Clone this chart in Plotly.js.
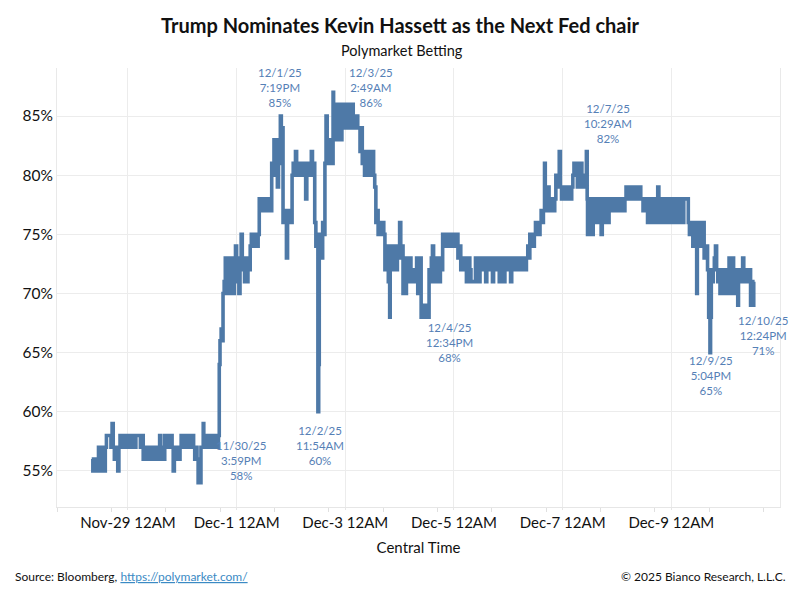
<!DOCTYPE html>
<html>
<head>
<meta charset="utf-8">
<script src="https://cdn.plot.ly/plotly-3.0.1.min.js"></script>
<style>
  html, body { margin: 0; padding: 0; background: #ffffff; }
  #chart { width: 800px; height: 600px; }
</style>
</head>
<body>
<div id="chart"></div>
<script>
// ---- Data (Polymarket odds, %, Central Time) ----
const nov28 = [["08:00",56],["08:30",55],["09:00",56],["09:30",55],["10:00",56],["10:30",55],["11:00",57],["11:30",55],["12:00",57],["12:30",56],["13:00",57],["13:30",55],["14:00",57],["14:30",58],["15:00",58],["16:00",58],["16:30",57],["17:00",59],["17:30",57],["18:00",56],["18:30",57],["19:00",56],["19:30",55],["20:00",57],["20:30",58],["21:00",57],["21:30",58],["22:00",58],["22:30",57],["23:00",58]];
const nov29 = [["00:00",57],["00:30",58],["01:00",58],["01:30",57],["02:00",58],["03:00",57],["03:30",58],["04:00",58],["05:00",58],["05:30",57],["06:00",58],["06:45",56],["07:30",57],["08:00",56],["08:30",57],["09:30",56],["10:00",57],["10:30",56],["11:30",57],["12:00",56],["12:30",57],["13:00",56],["13:30",57],["14:00",58],["14:30",56],["15:00",57],["15:30",56],["16:15",58],["17:00",57],["17:30",58],["18:30",57],["19:00",58],["19:30",57],["20:00",55],["20:30",57],["21:00",56],["21:30",57],["22:00",56],["23:00",57],["23:30",58]];
const nov30 = [["00:00",58],["01:00",57],["01:30",58],["02:00",58],["03:00",57],["03:30",58],["04:30",58],["05:00",57],["05:30",56],["06:00",57],["06:30",56],["07:00",54],["07:45",54],["08:15",57],["09:15",59],["09:30",57],["10:00",58],["11:00",57],["11:30",58],["12:30",57],["13:00",58],["14:00",57],["14:30",58],["15:00",57],["15:59",58],["16:20",64],["16:40",66],["17:10",67],["17:30",66],["18:00",70],["18:30",71],["19:00",73],["19:30",70],["20:00",72],["20:30",70],["21:00",73],["21:30",71],["22:00",73],["22:30",70],["23:00",72],["23:30",74]];
const dec01 = [["00:00",71],["00:30",73],["01:00",70],["01:30",72],["02:00",75],["02:30",72],["03:00",73],["03:30",71],["04:00",73],["04:30",71],["05:00",73],["05:30",72],["06:00",74],["06:30",75],["07:00",74],["07:30",75],["08:00",74],["08:30",75],["09:00",74],["09:30",75],["10:00",78],["10:30",77],["11:00",78],["11:30",77],["12:00",77],["13:00",78],["13:30",77],["14:00",78],["15:00",77],["15:30",81],["16:00",80],["16:30",83],["17:00",81],["17:30",83],["18:00",79],["18:30",83],["19:19",85],["19:45",81],["20:00",84],["20:30",76],["21:00",77],["21:30",76],["22:00",73],["22:30",77],["23:00",76],["23:30",77]];
const dec02 = [["00:00",76],["00:30",80],["01:00",81],["01:30",80],["02:00",82],["02:30",80],["03:00",81],["03:30",80],["04:00",81],["04:30",80],["05:00",81],["05:30",80],["06:00",81],["06:30",78],["07:00",81],["07:30",80],["08:00",81],["08:30",80],["09:00",82],["09:30",80],["10:00",81],["10:30",76],["11:00",74],["11:30",75],["11:54",60],["12:15",64],["12:30",74],["13:00",75],["13:30",73],["14:00",76],["14:30",75],["15:00",81],["15:30",85],["16:00",81],["16:30",83],["17:00",81],["17:30",83],["18:00",81],["18:36",87],["18:50",84],["19:00",83],["19:30",86],["20:00",83],["20:30",86],["21:00",84],["21:30",86],["22:00",83],["22:30",86],["23:00",84],["23:30",86]];
const dec03 = [["00:00",84],["00:30",86],["01:00",85],["01:30",86],["02:00",84],["02:49",86],["03:30",84],["04:00",85],["04:30",84],["05:00",85],["05:30",84],["06:00",84],["06:30",82],["07:00",84],["07:30",81],["08:00",82],["08:30",80],["09:00",82],["09:30",80],["10:00",82],["10:30",80],["11:00",82],["11:30",80],["12:00",82],["12:30",80],["13:00",79],["13:30",76],["14:00",77],["14:30",75],["15:00",76],["15:30",75],["16:00",75],["16:30",76],["17:00",75],["17:30",72],["18:00",74],["18:30",72],["19:00",71],["19:36",68],["19:50",72],["20:00",74],["20:30",72],["21:00",74],["21:30",72],["22:00",74],["22:30",72],["23:00",74],["23:30",73]];
const dec04 = [["00:00",76],["00:30",73],["01:00",74],["01:30",70],["02:00",72],["02:30",70],["03:00",73],["03:30",71],["04:00",72],["04:30",73],["05:00",71],["05:30",72],["06:00",71],["06:30",72],["07:00",71],["07:30",73],["08:00",70],["08:30",72],["09:00",73],["09:30",68],["10:00",69],["10:30",68],["11:00",69],["11:30",68],["12:34",68],["13:00",72],["13:30",71],["14:00",73],["14:30",74],["15:00",72],["15:30",71],["16:00",73],["16:30",72],["17:00",73],["17:30",71],["18:00",73],["18:30",72],["19:00",75],["19:30",74],["20:00",75],["20:30",74],["21:00",75],["22:00",74],["22:30",75],["23:30",74]];
const dec05 = [["00:00",75],["00:30",74],["01:00",75],["01:45",73],["02:30",74],["03:00",72],["03:30",73],["04:00",72],["05:00",73],["05:30",71],["06:00",73],["07:00",72],["07:30",71],["09:00",71],["09:30",73],["10:30",72],["11:00",71],["11:30",73],["12:30",72],["13:30",73],["14:00",71],["14:30",73],["15:30",72],["16:30",73],["17:00",71],["17:30",73],["18:30",72],["19:30",73],["20:00",71],["20:30",73],["21:30",72],["22:00",71],["22:30",73],["23:30",72]];
const dec06 = [["00:30",73],["01:00",71],["01:30",73],["02:30",72],["03:30",73],["04:30",72],["05:00",73],["06:00",72],["06:30",73],["07:30",72],["08:00",73],["08:36",74],["09:00",73],["09:30",75],["10:00",74],["10:30",75],["11:00",74],["11:30",75],["12:00",76],["12:30",75],["13:00",76],["13:30",75],["14:00",76],["14:30",77],["15:00",76],["15:30",77],["16:00",81],["16:20",77],["16:40",78],["17:00",77],["17:30",79],["18:00",77],["18:30",78],["19:00",77],["19:30",78],["20:00",77],["20:30",78],["21:00",80],["21:30",79],["22:00",80],["22:30",82],["23:00",79],["23:30",78]];
const dec07 = [["00:00",79],["00:30",78],["01:00",79],["02:00",78],["03:00",79],["03:30",78],["04:00",79],["04:30",80],["05:00",81],["05:30",80],["06:00",81],["06:30",79],["07:00",81],["07:30",80],["08:00",81],["08:30",79],["09:00",80],["09:30",79],["10:29",82],["10:50",78],["11:00",75],["11:30",77],["12:00",76],["12:30",78],["13:00",75],["13:30",76],["14:30",78],["15:30",76],["16:30",78],["17:00",75],["17:30",76],["18:30",78],["19:30",76],["20:30",78],["22:00",77],["23:00",78]];
const dec08 = [["00:00",77],["01:00",78],["02:30",77],["03:30",78],["04:00",79],["05:00",78],["05:30",79],["07:00",78],["07:30",79],["09:00",78],["09:30",79],["10:30",78],["11:30",77],["12:00",78],["13:30",76],["14:30",78],["15:30",76],["16:30",78],["17:30",76],["18:00",79],["18:30",76],["19:30",78],["20:30",76],["21:30",78],["22:30",76],["23:30",78]];
const dec09 = [["00:30",76],["01:30",78],["02:30",76],["03:30",78],["04:30",76],["05:30",78],["07:30",76],["08:00",75],["08:30",76],["09:00",75],["09:30",74],["10:00",76],["10:30",74],["11:00",76],["11:12",70],["11:30",75],["12:00",76],["12:30",74],["13:00",76],["13:30",74],["14:00",76],["14:30",73],["15:00",74],["16:00",72],["16:30",68],["17:04",65],["17:20",68],["17:40",72],["18:00",71],["18:30",72],["19:00",73],["19:30",74],["20:00",72],["20:30",71],["21:00",72],["21:30",70],["22:00",72],["22:30",70],["23:00",72],["23:30",70]];
const dec10 = [["00:00",72],["00:30",70],["01:00",72],["01:30",73],["02:00",70],["02:30",72],["03:00",73],["03:30",70],["04:00",72],["04:30",70],["05:00",72],["05:20",69],["05:40",71],["06:00",72],["06:30",71],["07:00",72],["07:30",73],["08:00",71],["08:30",72],["09:00",71],["09:30",72],["10:00",71],["10:30",72],["11:00",69],["11:30",71],["12:00",69],["12:24",71]];

const days = [["2025-11-28",nov28],["2025-11-29",nov29],["2025-11-30",nov30],["2025-12-01",dec01],["2025-12-02",dec02],["2025-12-03",dec03],["2025-12-04",dec04],["2025-12-05",dec05],["2025-12-06",dec06],["2025-12-07",dec07],["2025-12-08",dec08],["2025-12-09",dec09],["2025-12-10",dec10]];

// Tick labels
const tickDates = ["2025-11-29","2025-12-01","2025-12-03","2025-12-05","2025-12-07","2025-12-09"];
const tickLabels = ["Nov-29 12AM","Dec-1 12AM","Dec-3 12AM","Dec-5 12AM","Dec-7 12AM","Dec-9 12AM"];
const yTicks = [55,60,65,70,75,80,85];

// Annotated points
const annTimes = ["2025-11-30 15:59","2025-12-01 19:19","2025-12-02 11:54","2025-12-03 02:49","2025-12-04 12:34","2025-12-07 10:29","2025-12-09 17:04","2025-12-10 12:24"];
const annDates = ["11/30/25","12/1/25","12/2/25","12/3/25","12/4/25","12/7/25","12/9/25","12/10/25"];
const annClock = ["3:59PM","7:19PM","11:54AM","2:49AM","12:34PM","10:29AM","5:04PM","12:24PM"];
const annValues = [58,85,60,86,68,82,65,71];
// label placement (anchor, offsets in px)
const annPlace = [
  {ya:"top",   xs:23, ys:-2},
  {ya:"bottom",xs:0,  ys:5},
  {ya:"top",   xs:2,  ys:-10},
  {ya:"bottom",xs:19, ys:-7},
  {ya:"top",   xs:21, ys:-2},
  {ya:"bottom",xs:22, ys:5},
  {ya:"top",   xs:1,  ys:1},
  {ya:"top",   xs:9,  ys:-30}
];

// ---- Build ----
const xs = [], ys = [];
days.forEach(([d, arr]) => arr.forEach(([t, v]) => { xs.push(d + " " + t); ys.push(v); }));

const FONT = "Lato, 'Open Sans', sans-serif";
const lineColor = "#4e79a7";
const annColor = "#5580b6";

const annotations = annTimes.map((t, i) => ({
  x: t, y: annValues[i], xref: "x", yref: "y",
  text: annDates[i] + "<br>" + annClock[i] + "<br>" + annValues[i] + "%",
  showarrow: false, xanchor: "center", yanchor: annPlace[i].ya,
  xshift: annPlace[i].xs, yshift: annPlace[i].ys,
  font: {family: FONT, size: 11.5, color: annColor}
}));

annotations.push(
  {xref:"paper", yref:"paper", x:0.5, y:1, yanchor:"bottom", xanchor:"center", xshift:-18, yshift:29, showarrow:false,
   text:"<b>Trump Nominates Kevin Hassett as the Next Fed chair</b>", font:{family:FONT, size:20, color:"#111111"}},
  {xref:"paper", yref:"paper", x:0.5, y:1, yanchor:"bottom", xanchor:"center", xshift:-17, yshift:7, showarrow:false,
   text:"Polymarket Betting", font:{family:FONT, size:14.5, color:"#111111"}},
  {xref:"paper", yref:"paper", x:0, y:0, xanchor:"left", yanchor:"middle", xshift:-44, yshift:-69, showarrow:false,
   text:"Source: Bloomberg, <a href=\"https://polymarket.com/\" style=\"color:#3b8ac4\"><span style=\"color:#3b8ac4;text-decoration:underline\">https://polymarket.com/</span></a>",
   font:{family:FONT, size:12, color:"#111111"}},
  {xref:"paper", yref:"paper", x:1, y:0, xanchor:"right", yanchor:"middle", xshift:8, yshift:-69, showarrow:false,
   text:"© 2025 Bianco Research, L.L.C.", font:{family:FONT, size:12, color:"#111111"}}
);

const trace = {
  x: xs, y: ys, type: "scatter", mode: "lines",
  line: {color: lineColor, width: 3.6, shape: "hv"},
  hoverinfo: "x+y"
};

const layout = {
  width: 800, height: 600,
  margin: {l: 57, r: 20, t: 68, b: 93},
  paper_bgcolor: "#ffffff", plot_bgcolor: "#ffffff",
  font: {family: FONT, color: "#111111"},
  showlegend: false,
  xaxis: {
    type: "date",
    range: ["2025-11-27 16:40", "2025-12-11 00:00"],
    tickvals: tickDates, ticktext: tickLabels,
    tickfont: {family: FONT, size: 15, color: "#111111"},
    showgrid: true, gridcolor: "#ececec", gridwidth: 1,
    showline: true, linecolor: "#e6e6e6", linewidth: 1,
    ticks: "outside", ticklen: 2, tickcolor: "#e6e6e6",
    minor: {tick0: "2025-11-27 16:40", dtick: 86400000, ticks: "outside", ticklen: 4, tickcolor: "#e0e0e0", showgrid: false},
    zeroline: false,
    title: {text: "Central Time", font: {family: FONT, size: 15, color: "#111111"}, standoff: 12}
  },
  yaxis: {
    range: [51.95, 89.06],
    tickvals: yTicks, ticktext: yTicks.map(v => v + "%"),
    tickfont: {family: FONT, size: 15.5, color: "#111111"},
    showgrid: true, gridcolor: "#ececec", gridwidth: 1,
    showline: true, mirror: true, linecolor: "#e9e9e9", linewidth: 1,
    ticks: "", zeroline: false
  },
  annotations: annotations
};

Plotly.newPlot("chart", [trace], layout, {displayModeBar: false, staticPlot: true});
</script>
</body>
</html>
